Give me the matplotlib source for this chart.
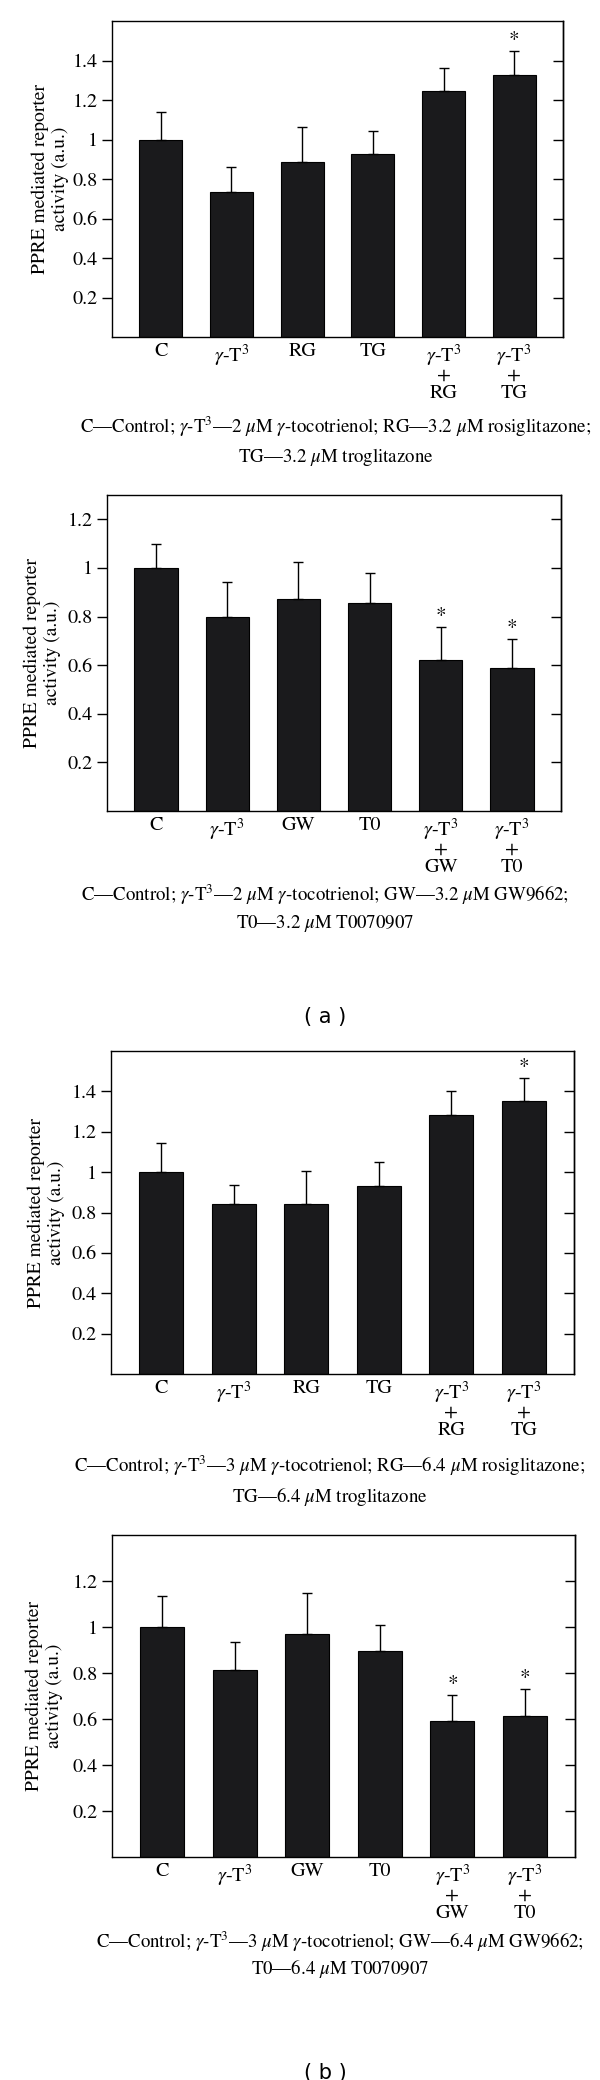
import numpy as np
import matplotlib.pyplot as plt
import matplotlib as mpl

mpl.rcParams['font.family'] = 'STIXGeneral'
mpl.rcParams['mathtext.fontset'] = 'stix'
mpl.rcParams['font.size'] = 14.5

# data
labels_rg = ['C', r'$\gamma$-T$^3$', 'RG', 'TG',
             '$\\gamma$-T$^3$\n+\nRG', '$\\gamma$-T$^3$\n+\nTG']
labels_gw = ['C', r'$\gamma$-T$^3$', 'GW', 'T0',
             '$\\gamma$-T$^3$\n+\nGW', '$\\gamma$-T$^3$\n+\nT0']

a1_mean = [1.00, 0.736, 0.887, 0.928, 1.245, 1.329]
a1_top = [1.137, 0.862, 1.063, 1.043, 1.360, 1.449]
a1_star = [5]

a2_mean = [1.00, 0.798, 0.872, 0.856, 0.621, 0.588]
a2_top = [1.098, 0.944, 1.026, 0.980, 0.755, 0.707]
a2_star = [4, 5]

b1_mean = [1.00, 0.840, 0.841, 0.930, 1.283, 1.351]
b1_top = [1.146, 0.935, 1.004, 1.050, 1.404, 1.466]
b1_star = [5]

b2_mean = [1.00, 0.812, 0.971, 0.896, 0.590, 0.611]
b2_top = [1.134, 0.936, 1.146, 1.008, 0.704, 0.731]
b2_star = [4, 5]

cap_a1 = [r'C—Control; $\gamma$-T$^3$—2 $\mu$M $\gamma$-tocotrienol; RG—3.2 $\mu$M rosiglitazone;',
          r'TG—3.2 $\mu$M troglitazone']
cap_a2 = [r'C—Control; $\gamma$-T$^3$—2 $\mu$M $\gamma$-tocotrienol; GW—3.2 $\mu$M GW9662;',
          r'T0—3.2 $\mu$M T0070907']
cap_b1 = [r'C—Control; $\gamma$-T$^3$—3 $\mu$M $\gamma$-tocotrienol; RG—6.4 $\mu$M rosiglitazone;',
          r'TG—6.4 $\mu$M troglitazone']
cap_b2 = [r'C—Control; $\gamma$-T$^3$—3 $\mu$M $\gamma$-tocotrienol; GW—6.4 $\mu$M GW9662;',
          r'T0—6.4 $\mu$M T0070907']

W, H = 600, 2080
fig = plt.figure(figsize=(W / 100, H / 100), dpi=100)
CAP_SIZE = 13.6


def px(x, y):
    return x / W, 1 - y / H


def panel(box, mean, top, star, labels, ymax, yticks, caps, cap_x, cap_y, ylab_x):
    l, r, t, b = box
    ax = fig.add_axes([l / W, 1 - b / H, (r - l) / W, (b - t) / H])
    x = np.arange(len(mean))
    mean = np.array(mean)
    err = np.array(top) - mean
    ax.bar(x, mean, width=0.61, color='#1a1a1c', edgecolor='black', linewidth=0.8)
    ax.errorbar(x, mean, yerr=[np.zeros_like(err), err], fmt='none',
                ecolor='black', elinewidth=1, capsize=3.3, capthick=1)
    for i in star:
        ax.text(x[i], top[i] + 0.045 * ymax / 1.3, '*', ha='center', va='center', fontsize=15)
    ax.set_xlim(-0.69, 5.69)
    ax.set_ylim(0, ymax)
    ax.set_xticks(x)
    ax.set_xticklabels(labels, linespacing=0.95)
    ax.tick_params(axis='x', length=0, pad=4)
    ax.set_yticks(yticks)
    ax.set_yticklabels([('%g' % v) for v in yticks])
    ax.tick_params(axis='y', direction='out', length=7, width=1, pad=3)
    sec = ax.secondary_yaxis('right')
    sec.set_yticks(yticks)
    sec.tick_params(direction='in', length=7, width=1, labelright=False)
    for s in list(ax.spines.values()) + list(sec.spines.values()):
        s.set_linewidth(1)
    fig.text(*px(ylab_x, (t + b) / 2), 'PPRE mediated reporter\nactivity (a.u.)',
             rotation=90, ha='center', va='center', multialignment='center',
             linespacing=1.2, fontsize=14)
    for line, yy in zip(caps, cap_y):
        fig.text(*px(cap_x, yy), line, ha='center', va='center', fontsize=CAP_SIZE)
    return ax


t16 = [0.2, 0.4, 0.6, 0.8, 1, 1.2, 1.4]
t13 = [0.2, 0.4, 0.6, 0.8, 1, 1.2]

panel((112, 563, 21, 337), a1_mean, a1_top, a1_star, labels_rg, 1.6, t16,
      cap_a1, 336, (427, 457), 50)
panel((107, 561, 495, 811), a2_mean, a2_top, a2_star, labels_gw, 1.3, t13,
      cap_a2, 325, (895, 923), 42)
panel((111, 574, 1051, 1374), b1_mean, b1_top, b1_star, labels_rg, 1.6, t16,
      cap_b1, 330, (1466, 1496), 46)
panel((112, 575, 1535, 1857), b2_mean, b2_top, b2_star, labels_gw, 1.4, t13,
      cap_b2, 340, (1942, 1968), 44)

fig.text(*px(325, 1017), '( a )', ha='center', va='center', family='DejaVu Sans', fontsize=15)
fig.text(*px(325, 2073), '( b )', ha='center', va='center', family='DejaVu Sans', fontsize=15)

fig.savefig('out.png', dpi=100)
